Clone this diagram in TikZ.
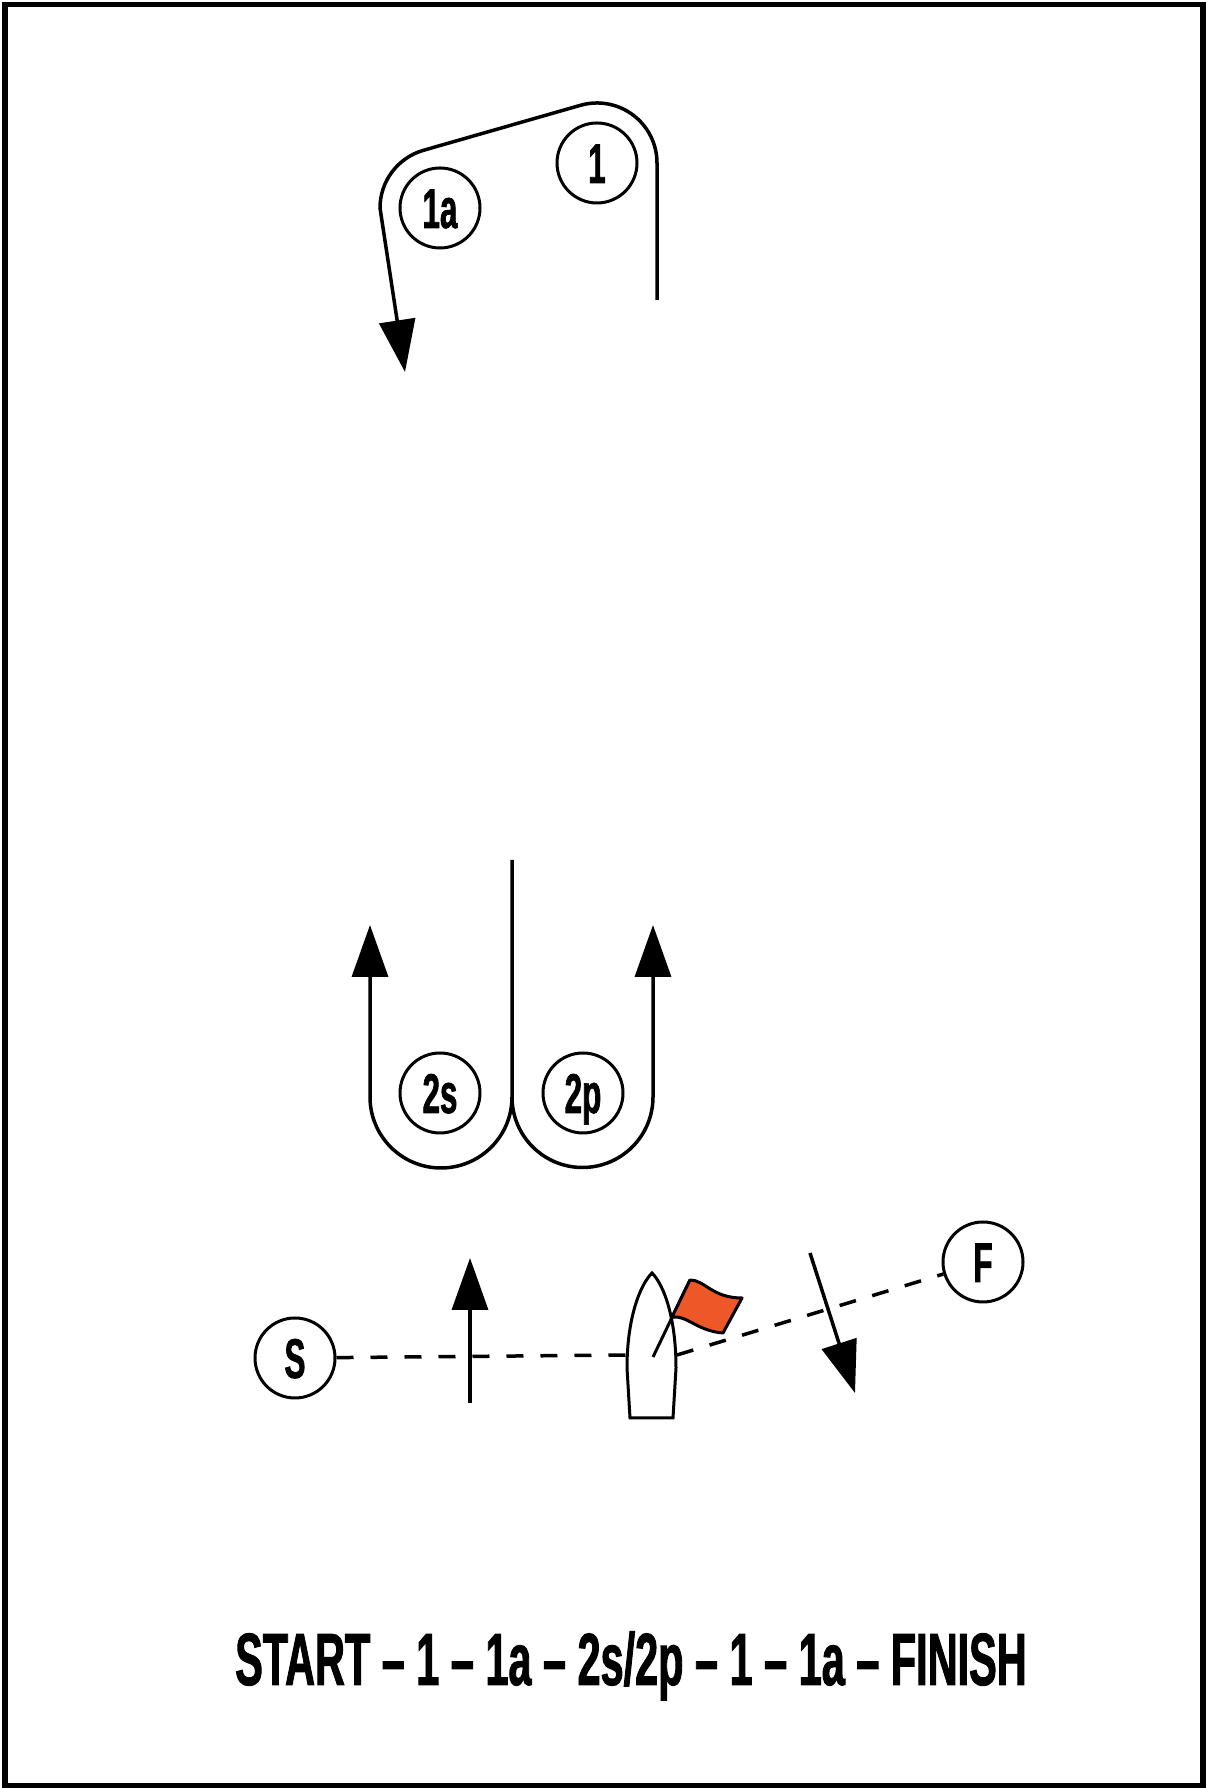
\documentclass[tikz,border=0pt]{standalone}
\usepackage{fontspec}
\usepackage{tikz}
\usetikzlibrary{arrows.meta,calc,positioning}
\newfontfamily\gothic{Liberation Sans}[FakeStretch=0.56,BoldFeatures={FakeBold=1.2}]
\definecolor{flagred}{RGB}{238,88,40}
\tikzstyle{line}=[draw]
\tikzstyle{course}=[line width=3.5pt]
\tikzstyle{arrow}=[line width=3.5pt,-{Triangle[length=52pt,width=36pt]}]
\tikzstyle{gate}=[line width=3.5pt,dash pattern=on 17pt off 17pt]
\tikzstyle{buoy}=[draw,circle,line width=3pt,minimum size=80pt,inner sep=0pt,font=\gothic\bfseries\fontsize{56}{56}\selectfont,text height=40pt,text depth=0pt]

\begin{document}
\begin{tikzpicture}[x=1pt,y=1pt]
\useasboundingbox (0,0) rectangle (1205,1788);
\draw[line width=5.5pt] (5,2) rectangle (1203,1783.5);
% top marks
\node[buoy](one) at (597,1625){1};
\node[buoy](onea) at (440,1580){1a};
\draw[line,arrow] (657,1488)--(657,1625) arc (0:106:60)--($(onea)+(106:60)$) arc (106:180:60)--(405,1416);
% gate 2s/2p
\node[buoy](twos) at (440,695){2s};
\node[buoy](twop) at (583,695){2p};
\draw[line,arrow] (512,928)--(512,691) arc (0:-180:71)--(370,863);
\draw[line,arrow] (512,691) arc (180:360:70.5)--(653,863);
% start and finish
\node[buoy](start) at (295,430){S};
\node[buoy](finish) at (983,526){F};
\coordinate (boatl) at (627,433);
\coordinate (boatr) at (677,433);
\draw[line,gate] (start)--(boatl);
\draw[line,gate] (boatr)--(finish);
\draw[line,arrow] (470,385)--(470,530);
\draw[line,arrow] (810,535)--(855,395);
% committee boat
\draw[line,line width=3pt,fill=white] (630,370)--(627,420) .. controls (627,470) and (640,503) .. (652,515) .. controls (664,503) and (676,470) .. (676,420)--(673,370)--cycle;
\draw[line,line width=3pt] (653,431)--(690,508);
\draw[line,line width=3pt,fill=flagred,line join=round] (690,508) .. controls (705,508) and (712,490) .. (742,490)--(723,455) .. controls (697,457) and (687,473) .. (672,471)--cycle;
\node[font=\gothic\bfseries\fontsize{74}{74}\selectfont,anchor=base](route) at (631,103){START – 1 – 1a – 2s/2p – 1 – 1a – FINISH};
\end{tikzpicture}
\end{document}
